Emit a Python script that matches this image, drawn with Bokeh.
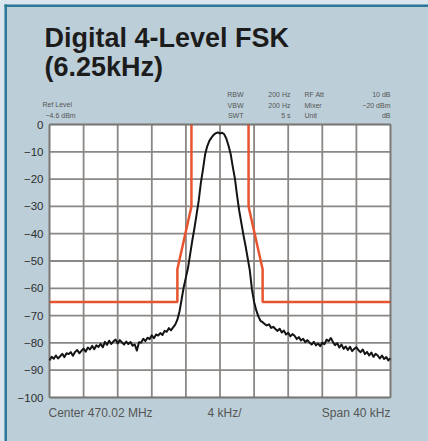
from bokeh.plotting import figure
from bokeh.models import Range1d, FixedTicker, Label, BoxAnnotation
from bokeh.embed import file_html
from bokeh.resources import INLINE

# ---------------- data ----------------
title_lines = ["Digital 4-Level FSK", "(6.25kHz)"]
y_ticks = [0, -10, -20, -30, -40, -50, -60, -70, -80, -90, -100]
y_tick_labels = ["0", "\u221210", "\u221220", "\u221230", "\u221240", "\u221250",
                 "\u221260", "\u221270", "\u221280", "\u221290", "\u2212100"]
x_ticks = [-20, -16, -12, -8, -4, 0, 4, 8, 12, 16, 20]
x_span = (-20, 20)      # kHz offset from centre
y_span = (-100, 0)      # dB

# spectral mask (kHz offset from centre, dB)
mask_left_f = [-20, -5.0, -5.0, -3.35, -3.35]
mask_left_db = [-65, -65, -53, -30, 0]
mask_right_f = [3.35, 3.35, 5.0, 5.0, 20]
mask_right_db = [0, -30, -53, -65, -65]

# measured trace (kHz offset from centre, dB)
trace_f = [
    -20.00, -19.75, -19.50, -19.25, -19.00, -18.75, -18.50, -18.25, -18.00, -17.75,
    -17.50, -17.25, -17.00, -16.75, -16.50, -16.25, -16.00, -15.75, -15.50, -15.25,
    -15.00, -14.75, -14.50, -14.25, -14.00, -13.75, -13.50, -13.25, -13.00, -12.75,
    -12.50, -12.25, -12.00, -11.75, -11.50, -11.25, -11.00, -10.75, -10.50, -10.25,
    -10.00, -9.75, -9.50, -9.25, -9.00, -8.75, -8.50, -8.25, -8.00, -7.75,
    -7.50, -7.25, -7.00, -6.75, -6.50, -6.25, -6.00, -5.75, -5.50, -5.25,
    -5.00, -4.75, -4.50, -4.25, -4.00, -3.75, -3.50, -3.25, -3.00, -2.75,
    -2.50, -2.25, -2.00, -1.75, -1.50, -1.25, -1.00, -0.75, -0.50, -0.25,
    0.00, 0.25, 0.50, 0.75, 1.00, 1.25, 1.50, 1.75, 2.00, 2.25,
    2.50, 2.75, 3.00, 3.25, 3.50, 3.75, 4.00, 4.25, 4.50, 4.75,
    5.00, 5.25, 5.50, 5.75, 6.00, 6.25, 6.50, 6.75, 7.00, 7.25,
    7.50, 7.75, 8.00, 8.25, 8.50, 8.75, 9.00, 9.25, 9.50, 9.75,
    10.00, 10.25, 10.50, 10.75, 11.00, 11.25, 11.50, 11.75, 12.00, 12.25,
    12.50, 12.75, 13.00, 13.25, 13.50, 13.75, 14.00, 14.25, 14.50, 14.75,
    15.00, 15.25, 15.50, 15.75, 16.00, 16.25, 16.50, 16.75, 17.00, 17.25,
    17.50, 17.75, 18.00, 18.25, 18.50, 18.75, 19.00, 19.25, 19.50, 19.75,
    20.00,
]
noise_left_db = [
    -86.4, -85.1, -85.8, -84.6, -85.7, -84.9, -84.0, -85.2, -83.8, -84.1,
    -83.4, -84.7, -83.3, -82.6, -83.8, -82.9, -82.1, -83.2, -81.7, -82.4,
    -81.1, -82.3, -80.9, -81.5, -80.3, -81.6, -79.6, -80.7, -79.2, -80.4,
    -79.4, -78.8, -80.2, -79.0, -79.8, -80.6, -79.5, -80.4, -79.7, -81.0,
    -80.6, -82.8, -79.8, -79.9, -78.5, -79.3, -78.1, -78.6, -77.2, -78.3,
    -76.9, -77.3, -76.4, -77.1, -75.6, -75.9, -74.6, -75.4, -74.3, -73.3,
]
peak_db = [
    -71.5, -68.5, -64.0, -59.5, -56.0, -52.5, -47.5, -42.5, -38.0, -33.0,
    -28.0, -21.5, -16.5, -11.0, -8.0, -6.0, -4.8, -3.8, -3.2, -2.9,
    -3.3, -3.0, -3.6, -5.2, -7.8, -10.8, -15.5, -19.8, -26.0, -31.5,
    -36.0, -40.5, -44.5, -49.0, -53.5, -60.5, -65.0, -68.0, -70.3,
]
noise_right_db = [
    -71.9, -72.4, -73.1, -73.6, -73.2, -74.5, -74.1, -74.9, -75.6, -74.8,
    -76.2, -75.5, -76.9, -76.3, -77.6, -76.8, -77.4, -78.6, -77.9, -79.1,
    -78.5, -79.7, -79.0, -79.9, -80.6, -79.6, -80.9, -80.2, -81.2, -79.9,
    -80.5, -78.8, -79.4, -78.2, -79.7, -80.8, -80.1, -81.7, -80.6, -82.2,
    -81.3, -82.6, -81.4, -83.0, -82.2, -81.6, -82.7, -83.4, -82.4, -84.1,
    -83.3, -84.6, -83.5, -85.1, -84.0, -84.6, -85.7, -84.6, -85.9, -85.2,
    -86.4, -85.6,
]
trace_db = noise_left_db + peak_db + noise_right_db

header_left = ["Ref  Level", "\u22124.6 dBm"]
header_c1 = ["RBW", "VBW", "SWT"]
header_c2 = ["200 Hz", "200 Hz", "5 s"]
header_c3 = ["RF  Att", "Mixer", "Unit"]
header_c4 = ["10 dB", "\u221220 dBm", "dB"]
footer = ["Center 470.02 MHz", "4 kHz/", "Span 40 kHz"]

# ---------------- layout geometry (canvas pixels) ----------------
W, H = 428, 441
FL, FT, FR, FB = 49, 124, 390, 397   # edges of the white plotting area
PANEL = "#bccfd9"
FONT = "Liberation Sans"
KX = (FR - FL) / (x_span[1] - x_span[0])
KY = (FB - FT) / (y_span[1] - y_span[0])


def dx(px):
    return x_span[0] + (px - FL) / KX


def dy(py):
    return y_span[1] - (py - FT) / KY


p = figure(width=W, height=H, output_backend="svg", toolbar_location=None,
           x_range=Range1d(dx(0), dx(W)), y_range=Range1d(dy(H), dy(0)),
           min_border_left=0, min_border_right=0,
           min_border_top=0, min_border_bottom=0)
p.background_fill_color = PANEL
p.border_fill_color = PANEL
p.outline_line_color = None
p.xgrid.visible = False
p.ygrid.visible = False
p.xaxis.visible = False

ax = p.yaxis[0]
ax.fixed_location = x_span[0]
ax.ticker = FixedTicker(ticks=y_ticks)
ax.major_label_overrides = {t: l for t, l in zip(y_ticks, y_tick_labels)}
ax.axis_line_color = None
ax.major_tick_line_color = None
ax.minor_tick_line_color = None
ax.major_tick_out = 0
ax.major_tick_in = 0
ax.major_label_standoff = 6
ax.major_label_text_font = FONT
ax.major_label_text_font_size = "11.5px"
ax.major_label_text_color = "#2e2e2e"

# decorative outer frame (top and left edges)
p.add_layout(BoxAnnotation(left=dx(0), right=dx(W), top=dy(0), bottom=dy(4),
                           fill_color="#d9e6ee", fill_alpha=1, line_color=None, level="underlay"))
p.add_layout(BoxAnnotation(left=dx(0), right=dx(4), top=dy(0), bottom=dy(H),
                           fill_color="#d9e6ee", fill_alpha=1, line_color=None, level="underlay"))
p.add_layout(BoxAnnotation(left=dx(4), right=dx(W), top=dy(4), bottom=dy(6.5),
                           fill_color="#2c7897", fill_alpha=1, line_color=None, level="underlay"))
p.add_layout(BoxAnnotation(left=dx(4), right=dx(6.5), top=dy(4), bottom=dy(H),
                           fill_color="#2c7897", fill_alpha=1, line_color=None, level="underlay"))

# white plotting area
p.add_layout(BoxAnnotation(left=x_span[0], right=x_span[1], bottom=y_span[0], top=y_span[1],
                           fill_color="white", fill_alpha=1, line_color=None, level="underlay"))

# grid from the tick values
p.segment(x0=x_ticks, x1=x_ticks, y0=[y_span[0]] * len(x_ticks), y1=[y_span[1]] * len(x_ticks),
          line_color="#8a8784", line_width=1.8)
p.segment(x0=[x_span[0]] * len(y_ticks), x1=[x_span[1]] * len(y_ticks), y0=y_ticks, y1=y_ticks,
          line_color="#8a8784", line_width=1.8)

p.line(mask_left_f, mask_left_db, line_color="#e8542e", line_width=2.5)
p.line(mask_right_f, mask_right_db, line_color="#e8542e", line_width=2.5)
p.line(trace_f, trace_db, line_color="#141414", line_width=2, line_join="round")

# frame of the plotting area
p.add_layout(BoxAnnotation(left=x_span[0], right=x_span[1], bottom=y_span[0], top=y_span[1],
                           fill_alpha=0, line_color="#555555", line_width=2, level="overlay"))


def lab(text, px, py, size, align="left", baseline="middle", bold=False, color="#555555"):
    p.add_layout(Label(x=dx(px), y=dy(py), text=text, text_font=FONT, text_font_size=size,
                       text_align=align, text_baseline=baseline,
                       text_font_style="bold" if bold else "normal", text_color=color))


lab(title_lines[0], 44, 37, "27px", bold=True, color="#1c1c1c")
lab(title_lines[1], 44, 66, "27px", bold=True, color="#1c1c1c")

lab(header_left[0], 42, 104, "7px")
lab(header_left[1], 45, 114.5, "7px")
rows = [94, 104.5, 115]
for i, r in enumerate(rows):
    lab(header_c1[i], 243, r, "7px", align="right")
    lab(header_c2[i], 290, r, "7px", align="right")
    lab(header_c3[i], 304, r, "7px")
    lab(header_c4[i], 390, r, "7px", align="right")

lab(footer[0], 48, 412, "12px")
lab(footer[1], 224, 412, "12px", align="center")
lab(footer[2], 390, 412, "12px", align="right")

open("out.html", "w").write(file_html(p, INLINE))
